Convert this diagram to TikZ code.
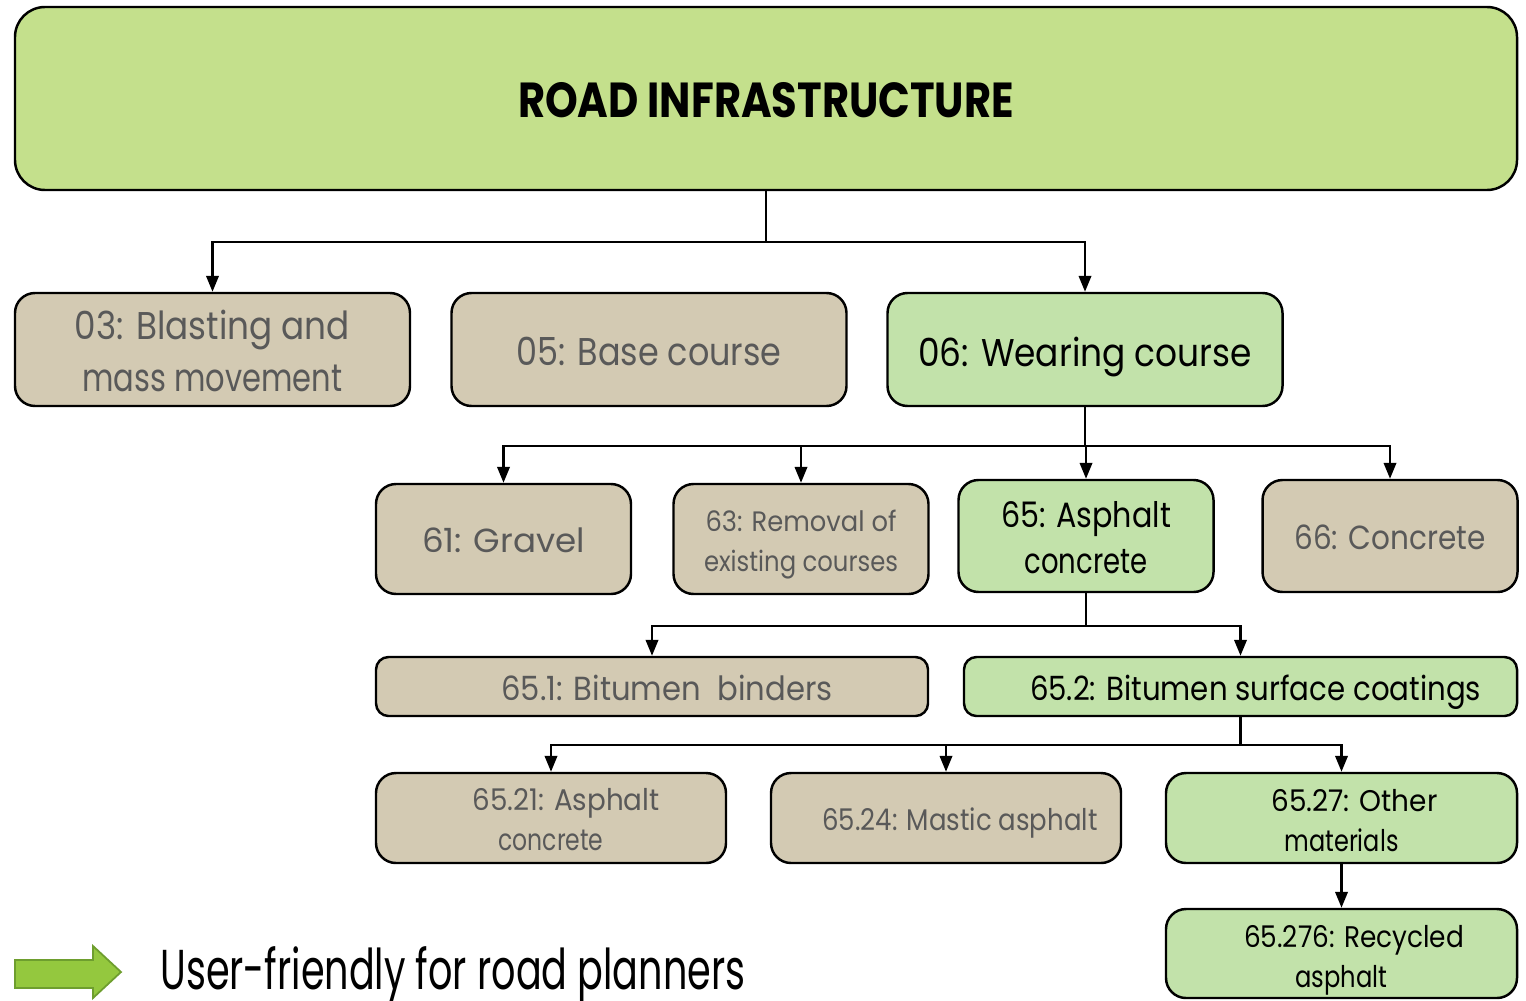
\documentclass[tikz,border=0pt]{standalone}
\usepackage{fontspec}
\setmainfont{Poppins}
\usetikzlibrary{arrows.meta}
\definecolor{rootgreen}{HTML}{C4E08C}
\definecolor{boxgreen}{HTML}{C2E2AA}
\definecolor{boxtan}{HTML}{D3CAB3}
\definecolor{textgrey}{HTML}{595959}
\definecolor{arrowgreen}{HTML}{94C83E}
\definecolor{arrowedge}{HTML}{6E9E2E}
% 每行文字按参考图的宽度缩放, 可选参数把文字往下挪
\newcommand{\linefit}[3][0pt]{\raisebox{-#1}[\height][\depth]{\resizebox{#2}{\height}{#3}}}

\begin{document}
\begin{tikzpicture}[
        box/.style={draw=black, line width=1.4pt, rounded corners=0.4cm, align=center, inner sep=0pt},
        grey box/.style={box, fill=boxtan, text=textgrey},
        green box/.style={box, fill=boxgreen, text=black},
        link/.style={line width=1.4pt, -{Triangle[width=7pt,length=9pt]}},
    ]
        \useasboundingbox (0,0) rectangle (30.52,-20);

        % 顶层
        \node[box, fill=rootgreen, rounded corners=0.6cm, minimum width=30.04cm, minimum height=3.66cm,
            font=\fontsize{28}{32}\selectfont\bfseries] (root) at (15.32,-1.97) {\linefit[1pt]{9.92cm}{ROAD INFRASTRUCTURE}};

        % 第一层
        \node[grey box, minimum width=7.9cm, minimum height=2.26cm, font=\fontsize{22}{29.6}\selectfont] (b03) at (4.25,-6.99)
            {\linefit[1pt]{5.5cm}{03: Blasting and}\\\linefit[1pt]{5.2cm}{mass movement}};
        \node[grey box, minimum width=7.9cm, minimum height=2.26cm, font=\fontsize{22}{29.6}\selectfont] (b05) at (12.98,-6.99)
            {\linefit[1pt]{5.3cm}{05: Base course}};
        \node[green box, minimum width=7.9cm, minimum height=2.26cm, font=\fontsize{22}{29.6}\selectfont] (b06) at (21.70,-6.99)
            {\linefit[4pt]{6.68cm}{06: Wearing course}};

        \draw[link] (root.south) -- ++(0,-1.02) -| (b03.north);
        \draw[link] (root.south) -- ++(0,-1.02) -| (b06.north);

        % 第二层
        \node[grey box, minimum width=5.1cm, minimum height=2.2cm, font=\fontsize{19}{24}\selectfont] (b61) at (10.07,-10.78)
            {\linefit[1pt]{3.26cm}{61: Gravel}};
        \node[grey box, minimum width=5.1cm, minimum height=2.2cm, font=\fontsize{16}{22.7}\selectfont] (b63) at (16.02,-10.78)
            {\linefit[3pt]{3.82cm}{63: Removal of}\\\linefit[3pt]{3.88cm}{existing courses}};
        \node[green box, minimum width=5.1cm, minimum height=2.24cm, font=\fontsize{20}{26}\selectfont] (b65) at (21.72,-10.72)
            {\linefit[1pt]{3.4cm}{65: Asphalt}\\\linefit[1pt]{2.46cm}{concrete}};
        \node[grey box, minimum width=5.1cm, minimum height=2.24cm, font=\fontsize{19}{24}\selectfont] (b66) at (27.8,-10.72)
            {\linefit[1pt]{3.82cm}{66: Concrete}};

        \draw[link] (b06.south) -- ++(0,-0.78) -| (b61.north);
        \draw[link] (b06.south) -- ++(0,-0.78) -| (b63.north);
        \draw[link] (b06.south) -- ++(0,-0.78) -| (b65.north);
        \draw[link] (b06.south) -- ++(0,-0.78) -| (b66.north);

        % 第三层
        \node[grey box, minimum width=11.04cm, minimum height=1.18cm, rounded corners=0.25cm, font=\fontsize{19}{24}\selectfont] (b651) at (13.04,-13.73)
            {\hspace{0.6cm}\linefit[1pt]{6.62cm}{65.1: Bitumen~~binders}};
        \node[green box, minimum width=11.06cm, minimum height=1.18cm, rounded corners=0.25cm, font=\fontsize{19}{24}\selectfont] (b652) at (24.81,-13.73)
            {\hspace{0.6cm}\linefit[3.4pt]{9.02cm}{65.2: Bitumen surface coatings}};

        \draw[link] (b65.south) -- ++(0,-0.66) -| (b651.north);
        \draw[link] (b65.south) -- ++(0,-0.66) -| (b652.north);

        % 第四层
        \node[grey box, minimum width=7cm, minimum height=1.8cm, font=\fontsize{17}{22.7}\selectfont] (b6521) at (11.02,-16.36)
            {\hspace{0.6cm}\linefit[1pt]{3.74cm}{65.21: Asphalt}\\\linefit[1pt]{2.1cm}{concrete}};
        \node[grey box, minimum width=7cm, minimum height=1.8cm, font=\fontsize{17}{22.7}\selectfont] (b6524) at (18.92,-16.36)
            {\hspace{0.56cm}\linefit[2.8pt]{5.5cm}{65.24: Mastic asphalt}};
        \node[green box, minimum width=7.02cm, minimum height=1.8cm, font=\fontsize{17}{22.7}\selectfont] (b6527) at (26.83,-16.36)
            {\hspace{0.52cm}\linefit[1.7pt]{3.32cm}{65.27: Other}\\\linefit[1.7pt]{2.28cm}{materials}};

        \draw[link] (b652.south) -- ++(0,-0.56) -| (b6521.north);
        \draw[link] (b652.south) -- ++(0,-0.56) -| (b6524.north);
        \draw[link] (b652.south) -- ++(0,-0.56) -| (b6527.north);

        % 第五层
        \node[green box, minimum width=7.02cm, minimum height=1.78cm, font=\fontsize{17}{22.7}\selectfont] (b65276) at (26.83,-19.07)
            {\hspace{0.5cm}\linefit[3.7pt]{4.4cm}{65.276: Recycled}\\\linefit[3.7pt]{1.84cm}{asphalt}};

        \draw[link] (b6527.south) -- (b65276.north);

        % 左下角的箭头和标语
        \draw[fill=arrowgreen, draw=arrowedge, line width=1pt] (0.3,-19.2) -- (1.86,-19.2) -- (1.86,-18.92) -- (2.42,-19.44)
            -- (1.86,-19.96) -- (1.86,-19.76) -- (0.3,-19.76) -- cycle;
        \node[anchor=base west, inner sep=0pt, font=\fontsize{32}{36}\selectfont] (slogan) at (3.2,-19.78)
            {\linefit{11.7cm}{User-friendly for road planners}};
    \end{tikzpicture}
\end{document}
